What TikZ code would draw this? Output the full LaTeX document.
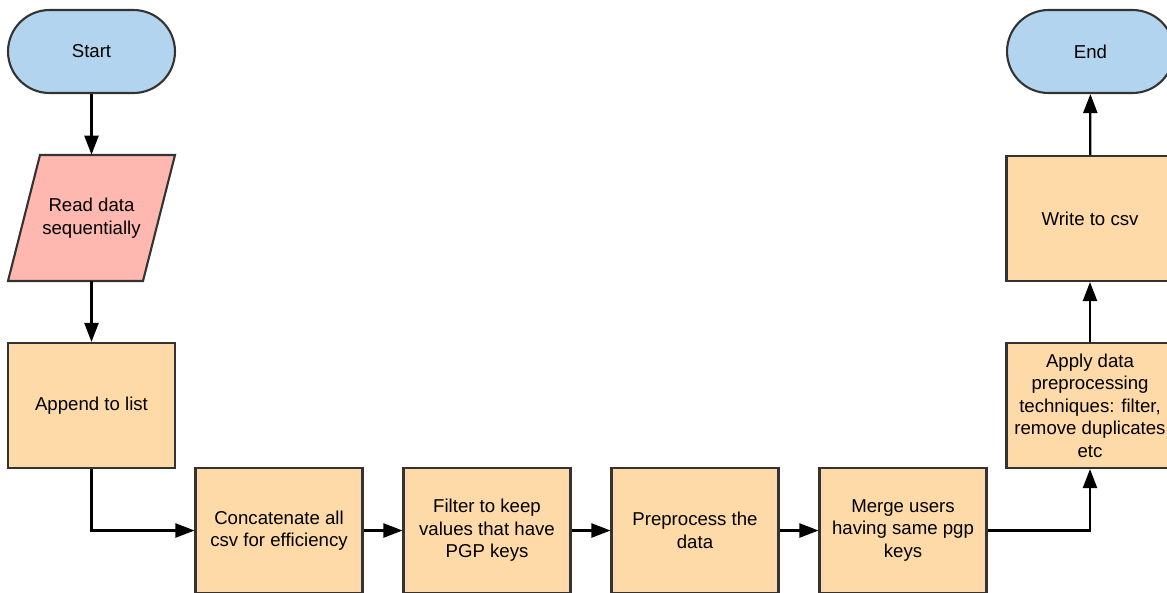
\documentclass[tikz,border=0pt]{standalone}
\usepackage{fontspec}
\setmainfont{Liberation Sans}
\usetikzlibrary{arrows.meta, positioning}

\definecolor{termblue}{HTML}{B3D4EF}
\definecolor{iopink}{HTML}{FFB8B0}
\definecolor{procorange}{HTML}{FDDAA7}
\definecolor{edgegray}{HTML}{333333}

\tikzset{
  terminal/.style={draw=edgegray, fill=termblue, line width=1.2pt, rounded corners=0.83cm,
    minimum width=3.34cm, minimum height=1.66cm, align=center},
  inout/.style={minimum width=3.34cm, minimum height=2.52cm, inner sep=0pt, align=center},
  procbox/.style={draw=edgegray, fill=procorange, line width=1.2pt,
    minimum width=3.34cm, minimum height=2.5cm, inner sep=0pt, align=center},
  flow/.style={-{Triangle[length=0.38cm, width=0.28cm]}, line width=1.3pt, draw=black},
}

\begin{document}
\begin{tikzpicture}[x=0.02cm, y=-0.02cm, font=\fontsize{10.6}{12.8}\selectfont]
  \useasboundingbox (0,0) rectangle (1167,592);
  \clip (0,0) rectangle (1167,592);
  % ---- left column ----
  \node[terminal] (start) at (91.5,51.5) {Start};
  \filldraw[draw=edgegray, fill=iopink, line width=1.2pt]
    (8,281) -- (143,281) -- (175,155) -- (40,155) -- cycle;
  \node[inout] (read) at (91.5,218) {Read data\\sequentially};
  \node[procbox] (append) at (91.5,405.5) {Append to list};
  % ---- bottom row ----
  \node[procbox] (concat) at (279,530.5) {Concatenate all\\csv for efficiency};
  \node[procbox] (filter) at (487,530.5) {Filter to keep\\values that have\\PGP keys};
  \node[procbox] (prep) at (695,530.5) {Preprocess the\\data};
  \node[procbox] (merge) at (903,530.5) {Merge users\\having same pgp\\keys};
  % ---- right column ----
  \node[procbox] (apply) at (1090,405.5) {Apply data\\preprocessing\\techniques: filter,\\remove duplicates\\etc};
  \node[procbox] (write) at (1090,218.5) {Write to csv};
  \node[terminal] (finish) at (1090.5,51.5) {End};
  % ---- connectors ----
  \draw[flow] (start) -- (read);
  \draw[flow] (read) -- (append);
  \draw[flow] (append.south) |- (concat.west);
  \draw[flow] (concat) -- (filter);
  \draw[flow] (filter) -- (prep);
  \draw[flow] (prep) -- (merge);
  \draw[flow] (merge.east) -| (apply.south);
  \draw[flow] (apply) -- (write);
  \draw[flow] (write) -- (finish);
\end{tikzpicture}
\end{document}
